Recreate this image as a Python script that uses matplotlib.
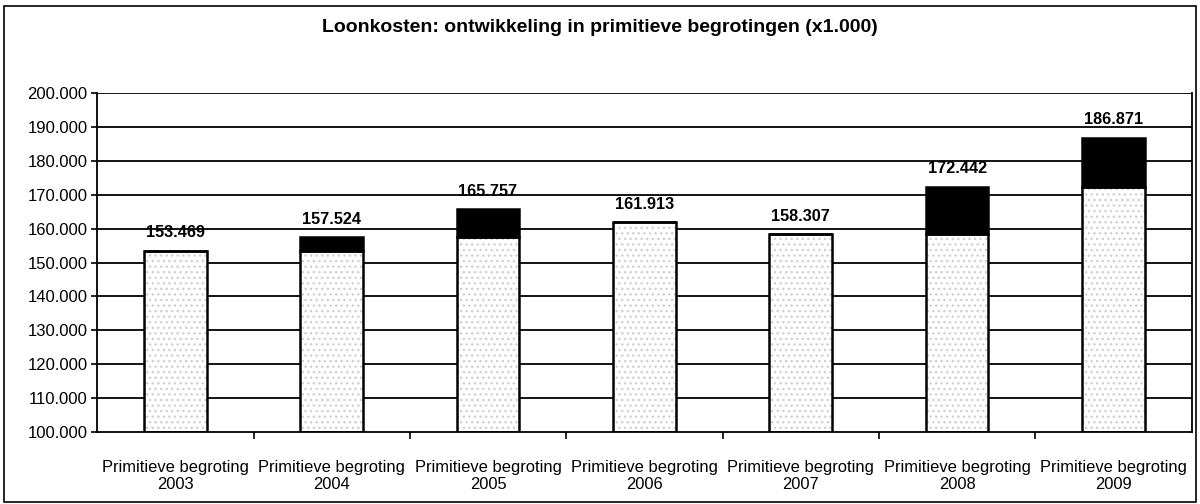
import matplotlib
matplotlib.use("Agg")
import matplotlib.pyplot as plt
from matplotlib.patches import Rectangle
from matplotlib.ticker import FuncFormatter, FixedLocator

plt.rcParams['font.family'] = ['Liberation Sans', 'DejaVu Sans']

# data (x1.000)
years = ['2003', '2004', '2005', '2006', '2007', '2008', '2009']
totals = [153469, 157524, 165757, 161913, 158307, 172442, 186871]
base = [153469, 153469, 157524, 161913, 158307, 158307, 172442]
labels = ['Primitieve begroting\n' + y for y in years]

increase = [t - b for t, b in zip(totals, base)]
x = list(range(len(years)))

fig = plt.figure(figsize=(12, 5.04), dpi=100)
ax = fig.add_axes([0.081, 0.143, 0.912, 0.672])

# frame round the whole chart
fig.patches.append(Rectangle((0.003, 0.003), 0.994, 0.986, transform=fig.transFigure,
                             fill=False, edgecolor='black', linewidth=1.2))

ax.set_ylim(100000, 200000)
ax.set_xlim(-0.5, len(years) - 0.5)

for y in range(110000, 200001, 10000):
    ax.axhline(y, color='black', linewidth=1.3, zorder=1)

w = 0.4
bottoms = [100000] * len(years)
heights = [b - 100000 for b in base]
# stippled base
ax.bar(x, heights, bottom=bottoms, width=w, color='white', edgecolor='#d0d0d0',
       hatch='...', linewidth=0, zorder=2)
ax.bar(x, heights, bottom=bottoms, width=w, fill=False, edgecolor='black',
       linewidth=1.8, zorder=3)
# increase on top
ax.bar(x, increase, bottom=base, width=w, color='black', edgecolor='black',
       linewidth=1.8, zorder=3)

for xi, t in zip(x, totals):
    ax.annotate(f'{t / 1000:.3f}', (xi, t), xytext=(0, 13), textcoords='offset points',
                ha='center', va='center', fontsize=11.7, fontweight='bold')

ax.yaxis.set_major_locator(FixedLocator(range(100000, 200001, 10000)))
ax.yaxis.set_major_formatter(FuncFormatter(lambda v, p: f'{v / 1000:.3f}'))
ax.tick_params(axis='y', labelsize=12, length=4, width=1.2, direction='out', pad=3)

ax.set_xticks(x)
ax.set_xticklabels(labels, fontsize=11.9, linespacing=1.2)
ax.tick_params(axis='x', which='major', length=0, pad=20)
ax.set_xticks([i + 0.5 for i in x[:-1]], minor=True)
ax.tick_params(axis='x', which='minor', length=5, width=1.2)

for s in ['left', 'bottom', 'right']:
    ax.spines[s].set_linewidth(1.3)
ax.spines['top'].set_visible(False)

fig.text(0.5, 0.945, 'Loonkosten: ontwikkeling in primitieve begrotingen (x1.000)',
         ha='center', va='center', fontsize=14, fontweight='bold')

fig.savefig('out.png', dpi=100)
